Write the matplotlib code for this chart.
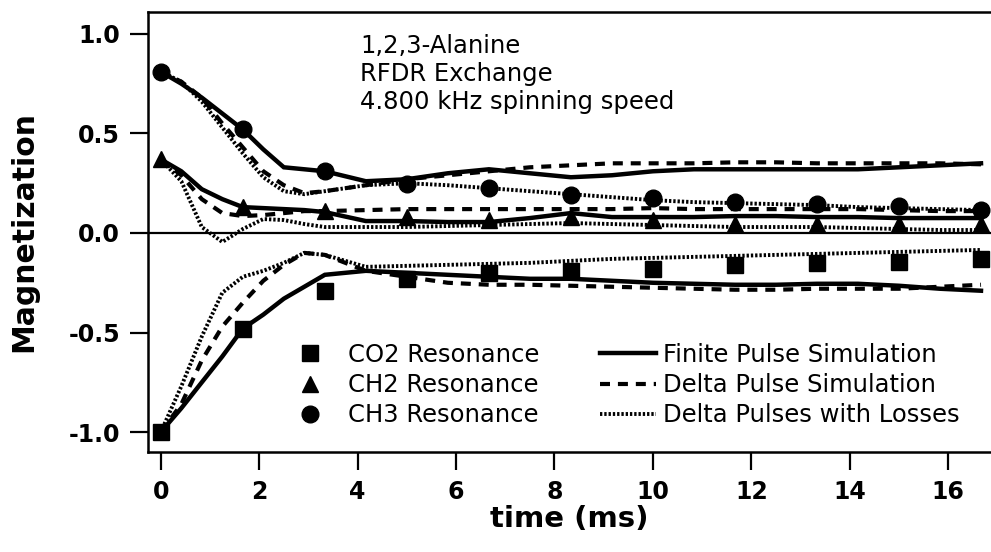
import matplotlib
matplotlib.use('Agg')
import matplotlib.pyplot as plt
from matplotlib.lines import Line2D

plt.rcParams['font.family'] = 'DejaVu Sans'
plt.rcParams['axes.unicode_minus'] = False

# experimental points (every 8 rotor periods at 4.8 kHz)
t_exp = [0, 1.667, 3.333, 5.0, 6.667, 8.333, 10.0, 11.667, 13.333, 15.0, 16.667]
co2_exp = [-1.0, -0.48, -0.29, -0.23, -0.20, -0.19, -0.18, -0.16, -0.15, -0.145, -0.13]
ch2_exp = [0.37, 0.13, 0.11, 0.08, 0.065, 0.08, 0.065, 0.045, 0.045, 0.045, 0.045]
ch3_exp = [0.81, 0.52, 0.31, 0.245, 0.225, 0.19, 0.175, 0.155, 0.145, 0.135, 0.115]

# simulations
t_sim = [0, 0.417, 0.833, 1.25, 1.667, 2.083, 2.5, 2.917, 3.333, 4.167, 5.0, 5.833,
         6.667, 7.5, 8.333, 9.167, 10.0, 10.833, 11.667, 12.5, 13.333, 14.167, 15.0,
         15.833, 16.667]

co2_finite = [-1.0, -0.88, -0.75, -0.62, -0.48, -0.41, -0.33, -0.27, -0.21, -0.19, -0.20,
              -0.21, -0.22, -0.23, -0.23, -0.24, -0.25, -0.255, -0.26, -0.26, -0.255,
              -0.255, -0.265, -0.28, -0.29]
co2_delta = [-1.0, -0.86, -0.64, -0.47, -0.35, -0.24, -0.16, -0.10, -0.11, -0.19, -0.22,
             -0.25, -0.26, -0.26, -0.265, -0.27, -0.275, -0.28, -0.285, -0.285, -0.28,
             -0.28, -0.28, -0.27, -0.26]
co2_loss = [-1.0, -0.77, -0.52, -0.30, -0.22, -0.19, -0.15, -0.10, -0.11, -0.17, -0.165,
            -0.16, -0.155, -0.15, -0.14, -0.13, -0.125, -0.12, -0.115, -0.11, -0.105,
            -0.10, -0.095, -0.09, -0.085]

ch2_finite = [0.37, 0.31, 0.22, 0.17, 0.13, 0.125, 0.12, 0.115, 0.105, 0.06, 0.06, 0.055,
              0.055, 0.075, 0.10, 0.08, 0.08, 0.08, 0.085, 0.085, 0.08, 0.08, 0.075,
              0.075, 0.075]
ch2_delta = [0.37, 0.29, 0.17, 0.10, 0.085, 0.09, 0.10, 0.11, 0.11, 0.115, 0.12, 0.12,
             0.12, 0.12, 0.12, 0.12, 0.125, 0.12, 0.12, 0.12, 0.12, 0.12, 0.115, 0.11, 0.11]
ch2_loss = [0.37, 0.26, 0.03, -0.045, 0.02, 0.07, 0.065, 0.045, 0.03, 0.03, 0.03, 0.035,
            0.04, 0.045, 0.05, 0.045, 0.04, 0.035, 0.03, 0.03, 0.03, 0.025, 0.02, 0.015,
            0.015]

ch3_finite = [0.81, 0.75, 0.68, 0.60, 0.52, 0.42, 0.33, 0.32, 0.31, 0.26, 0.27, 0.30, 0.32,
              0.30, 0.28, 0.29, 0.31, 0.32, 0.32, 0.32, 0.32, 0.32, 0.33, 0.34, 0.35]
ch3_delta = [0.81, 0.76, 0.68, 0.55, 0.43, 0.31, 0.24, 0.20, 0.21, 0.24, 0.27, 0.29, 0.31,
             0.33, 0.34, 0.35, 0.35, 0.35, 0.355, 0.355, 0.35, 0.35, 0.35, 0.35, 0.345]
ch3_loss = [0.81, 0.76, 0.66, 0.53, 0.40, 0.28, 0.21, 0.195, 0.21, 0.24, 0.25, 0.24, 0.225,
            0.21, 0.195, 0.18, 0.165, 0.155, 0.15, 0.145, 0.14, 0.13, 0.125, 0.12, 0.115]

solid = dict(color='black', lw=3.2, ls='-', solid_joinstyle='miter')
dashed = dict(color='black', lw=3.0, ls=(0, (2.4, 1.9)), dash_capstyle='butt')
dotted = dict(color='black', lw=2.8, ls=(0, (0.6, 0.5)), dash_capstyle='butt')

fig = plt.figure(figsize=(9.91, 5.52), dpi=100)
ax = fig.add_axes([148 / 991, 100 / 552, 843 / 991, 440 / 552])

for finite, delta, loss in [(co2_finite, co2_delta, co2_loss),
                            (ch2_finite, ch2_delta, ch2_loss),
                            (ch3_finite, ch3_delta, ch3_loss)]:
    ax.plot(t_sim, loss, **dotted)
    ax.plot(t_sim, delta, **dashed)
    ax.plot(t_sim, finite, **solid)

ax.plot(t_exp, co2_exp, 's', color='black', ms=11)
ax.plot(t_exp, ch2_exp, '^', color='black', ms=12)
ax.plot(t_exp, ch3_exp, 'o', color='black', ms=12)

ax.axhline(0, color='black', lw=1.6)

ax.set_xlim(-0.26, 16.87)
ax.set_ylim(-1.10, 1.11)
ax.set_xticks(range(0, 17, 2))
ax.set_yticks([-1.0, -0.5, 0.0, 0.5, 1.0])
ax.set_yticklabels(['-1.0', '-0.5', '0.0', '0.5', '1.0'])
for s in ['left', 'bottom', 'top']:
    ax.spines[s].set_linewidth(1.8)
ax.spines['right'].set_visible(False)
ax.tick_params(direction='out', length=13, width=1.6, labelsize=17)
ax.tick_params(axis='y', pad=7)
ax.tick_params(axis='x', pad=7)
for lab in ax.get_xticklabels() + ax.get_yticklabels():
    lab.set_fontweight('bold')

ax.set_xlabel('time (ms)', fontsize=21, fontweight='bold', labelpad=1)
ax.set_ylabel('Magnetization', fontsize=21.5, fontweight='bold', labelpad=22)

ax.text(0.2515, 0.950, '1,2,3-Alanine\nRFDR Exchange\n4.800 kHz spinning speed',
        transform=ax.transAxes, fontsize=17.5, va='top', ha='left', linespacing=1.2)

mk = [Line2D([], [], ls='none', marker='s', color='black', ms=11),
      Line2D([], [], ls='none', marker='^', color='black', ms=12),
      Line2D([], [], ls='none', marker='o', color='black', ms=12)]
leg1 = ax.legend(mk, ['CO2 Resonance', 'CH2 Resonance', 'CH3 Resonance'],
                 loc='upper left', bbox_to_anchor=((298 - 148) / 843, (452 - 343) / 440),
                 frameon=False, fontsize=17.5, handlelength=1.0, handletextpad=1.05,
                 labelspacing=0.25, borderpad=0, borderaxespad=0)
ax.add_artist(leg1)

ln = [Line2D([], [], **solid), Line2D([], [], **dashed), Line2D([], [], **dotted)]
ax.legend(ln, ['Finite Pulse Simulation', 'Delta Pulse Simulation', 'Delta Pulses with Losses'],
          loc='upper left', bbox_to_anchor=((600 - 148) / 843, (452 - 343) / 440),
          frameon=False, fontsize=17.5, handlelength=2.3, handletextpad=0.3,
          labelspacing=0.25, borderpad=0, borderaxespad=0)

fig.savefig('out.png', dpi=100)
